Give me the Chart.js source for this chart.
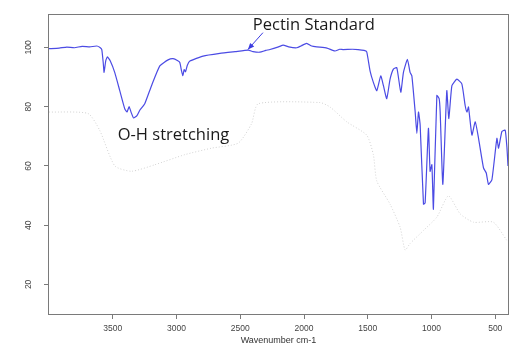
<!DOCTYPE html>
<html lang="en">
<head>
  <meta charset="UTF-8">
  <title>Pectin Standard FTIR</title>
  <script src="https://cdn.jsdelivr.net/npm/chart.js"></script>
  <style>
    body { margin: 0; background: #fff; }
    canvas { display: block; }
  </style>
</head>
<body>
  <canvas id="ftir" width="515" height="347"></canvas>

  <script>
    // tick labels
    const xTicks = [3500, 3000, 2500, 2000, 1500, 1000, 500];
    const yTicks = [20, 40, 60, 80, 100];

    // blue spectrum (Pectin Standard)
    const pectinWave = [4000, 3920, 3860, 3800, 3740, 3680, 3625, 3600, 3586, 3575, 3568, 3555, 3542, 3520,
      3484, 3445, 3406, 3388, 3372, 3355, 3337, 3310, 3288, 3249, 3196, 3131, 3066, 3027, 2990, 2974,
      2960, 2950, 2940, 2929, 2915, 2895, 2791, 2660, 2540, 2437, 2400, 2346, 2300, 2267, 2200, 2163,
      2120, 2057, 2020, 1979, 1940, 1900, 1820, 1757, 1720, 1694, 1620, 1576, 1529, 1508, 1482, 1456,
      1429, 1398, 1377, 1351, 1325, 1299, 1272, 1241, 1220, 1189, 1168, 1154, 1128, 1115, 1102, 1089,
      1063, 1050, 1024, 1011, 997, 985, 958, 940, 932, 911, 880, 864, 840, 801, 762, 736, 722, 710,
      683, 657, 631, 592, 571, 553, 526, 487, 474, 448, 422, 408, 400];
    const pectinT = [99.6, 99.8, 100.1, 99.9, 100.4, 100.2, 100.5, 100.0, 99.3, 95, 91.6, 95.5, 96.8, 95.5,
      91.5, 85.4, 79.3, 78.2, 80, 78, 76.2, 77, 78.8, 81, 87.1, 93.8, 95.8, 96.2, 95.5, 94.9,
      92, 90.5, 92.5, 91.8, 94, 95.4, 97.1, 98, 98.6, 99.1, 98.6, 98.4, 99, 99.3, 100.2, 100.8,
      100.2, 99.9, 100.6, 101.4, 100.5, 100.2, 99.8, 98.8, 99.4, 99.3, 99.4, 99.3, 99, 98.5, 92.1, 88.2,
      85.4, 90.4, 87.1, 82.7, 89.3, 92.7, 93.2, 84.9, 91.6, 96, 91.6, 90.4, 78.2, 71, 78.2, 73.8,
      47.1, 47.5, 72.7, 58.2, 60.4, 45.4, 83.8, 82.7, 78.2, 53.8, 85.4, 76, 87.1, 89.3, 87.7, 80.4, 78.2, 79.9,
      70.4, 74.9, 69.3, 59.3, 57.7, 53.8, 55.4, 69.3, 66, 71.6, 72.1, 66, 60];

    // faint grey dotted spectrum behind it
    const refWave = [4000, 3694, 3602, 3484, 3353, 3170, 2935, 2725, 2516, 2411, 2359, 1874, 1796, 1665,
      1508, 1456, 1429, 1325, 1246, 1207, 1168, 1063, 958, 867, 775, 671, 515, 410];
    const refT = [78.2, 77.7, 72, 60, 58.2, 60.4, 63.8, 66, 67.7, 74.3, 81, 81.4, 79.9, 74.9,
      70.4, 63.8, 54.9, 47.1, 39.3, 31.6, 33.8, 38.2, 42.7, 49.9, 43.8, 41, 41, 34.9];

    // annotations (text anchored at left/baseline, in data units)
    const noteText = ['Pectin Standard', 'O-H stretching'];
    const noteX = [2401, 3461];
    const noteY = [105.8, 68.7];
    const arrowFrom = [2322, 105];
    const arrowTo = [2440, 99.3];

    const toPoints = (xs, ys) => xs.map((v, i) => ({ x: v, y: ys[i] }));

    const extras = {
      id: 'extras',
      afterDraw(chart) {
        const { ctx, chartArea: a, scales: { x, y } } = chart;
        ctx.save();
        // box round the plot
        ctx.strokeStyle = '#7a7a7a';
        ctx.lineWidth = 1;
        ctx.strokeRect(a.left - 0.5, a.top + 0.5, a.right - a.left + 1, a.bottom - a.top);

        // labels
        ctx.fillStyle = '#1a1a1a';
        ctx.font = '16.5px "Open Sans"';
        ctx.textAlign = 'left';
        ctx.textBaseline = 'alphabetic';
        noteText.forEach((t, i) => {
          ctx.fillText(t, x.getPixelForValue(noteX[i]), y.getPixelForValue(noteY[i]));
        });

        // arrow
        const x0 = x.getPixelForValue(arrowFrom[0]), y0 = y.getPixelForValue(arrowFrom[1]);
        const x1 = x.getPixelForValue(arrowTo[0]), y1 = y.getPixelForValue(arrowTo[1]);
        const ang = Math.atan2(y1 - y0, x1 - x0);
        ctx.strokeStyle = ctx.fillStyle = 'rgb(60,60,225)';
        ctx.lineWidth = 1;
        ctx.beginPath();
        ctx.moveTo(x0, y0);
        ctx.lineTo(x1, y1);
        ctx.stroke();
        ctx.beginPath();
        ctx.moveTo(x1, y1);
        ctx.lineTo(x1 - 7 * Math.cos(ang - 0.4), y1 - 7 * Math.sin(ang - 0.4));
        ctx.lineTo(x1 - 7 * Math.cos(ang + 0.4), y1 - 7 * Math.sin(ang + 0.4));
        ctx.closePath();
        ctx.fill();
        ctx.restore();
      }
    };

    new Chart(document.getElementById('ftir'), {
      type: 'line',
      data: {
        datasets: [
          {
            label: 'reference',
            data: toPoints(refWave, refT),
            borderColor: '#d2d2d2',
            borderWidth: 1,
            borderDash: [1, 2],
            pointRadius: 0,
            tension: 0.2
          },
          {
            label: 'Pectin Standard',
            data: toPoints(pectinWave, pectinT),
            borderColor: 'rgb(75,75,228)',
            borderWidth: 1.2,
            pointRadius: 0,
            tension: 0.15
          }
        ]
      },
      options: {
        responsive: false,
        animation: false,
        layout: { padding: { top: 14, right: 7, left: 0, bottom: 0 } },
        plugins: {
          legend: { display: false },
          tooltip: { enabled: false }
        },
        scales: {
          x: {
            type: 'linear',
            reverse: true,
            min: 400,
            max: 4000,
            afterBuildTicks: s => { s.ticks = xTicks.map(v => ({ value: v })); },
            afterFit: s => { s.height = 33; },
            grid: { drawOnChartArea: false, drawTicks: true, tickLength: 5, color: '#7a7a7a' },
            border: { display: false },
            ticks: {
              padding: 5,
              maxRotation: 0,
              color: '#444',
              font: { family: '"Liberation Sans"', size: 8.5 },
              callback: v => String(v)
            },
            title: {
              display: true,
              text: 'Wavenumber cm-1',
              color: '#333',
              padding: { top: 1, bottom: 1 },
              font: { family: '"Liberation Sans"', size: 9 }
            }
          },
          y: {
            min: 10,
            max: 111.3,
            afterBuildTicks: s => { s.ticks = yTicks.map(v => ({ value: v })); },
            afterFit: s => { s.width = 49; },
            grid: { drawOnChartArea: false, drawTicks: true, tickLength: 5, color: '#7a7a7a' },
            border: { display: false },
            ticks: {
              padding: 8,
              minRotation: 90,
              maxRotation: 90,
              crossAlign: 'center',
              color: '#444',
              font: { family: '"Liberation Sans"', size: 8.5 },
              callback: v => String(v)
            }
          }
        }
      },
      plugins: [extras]
    });
  </script>
</body>
</html>
